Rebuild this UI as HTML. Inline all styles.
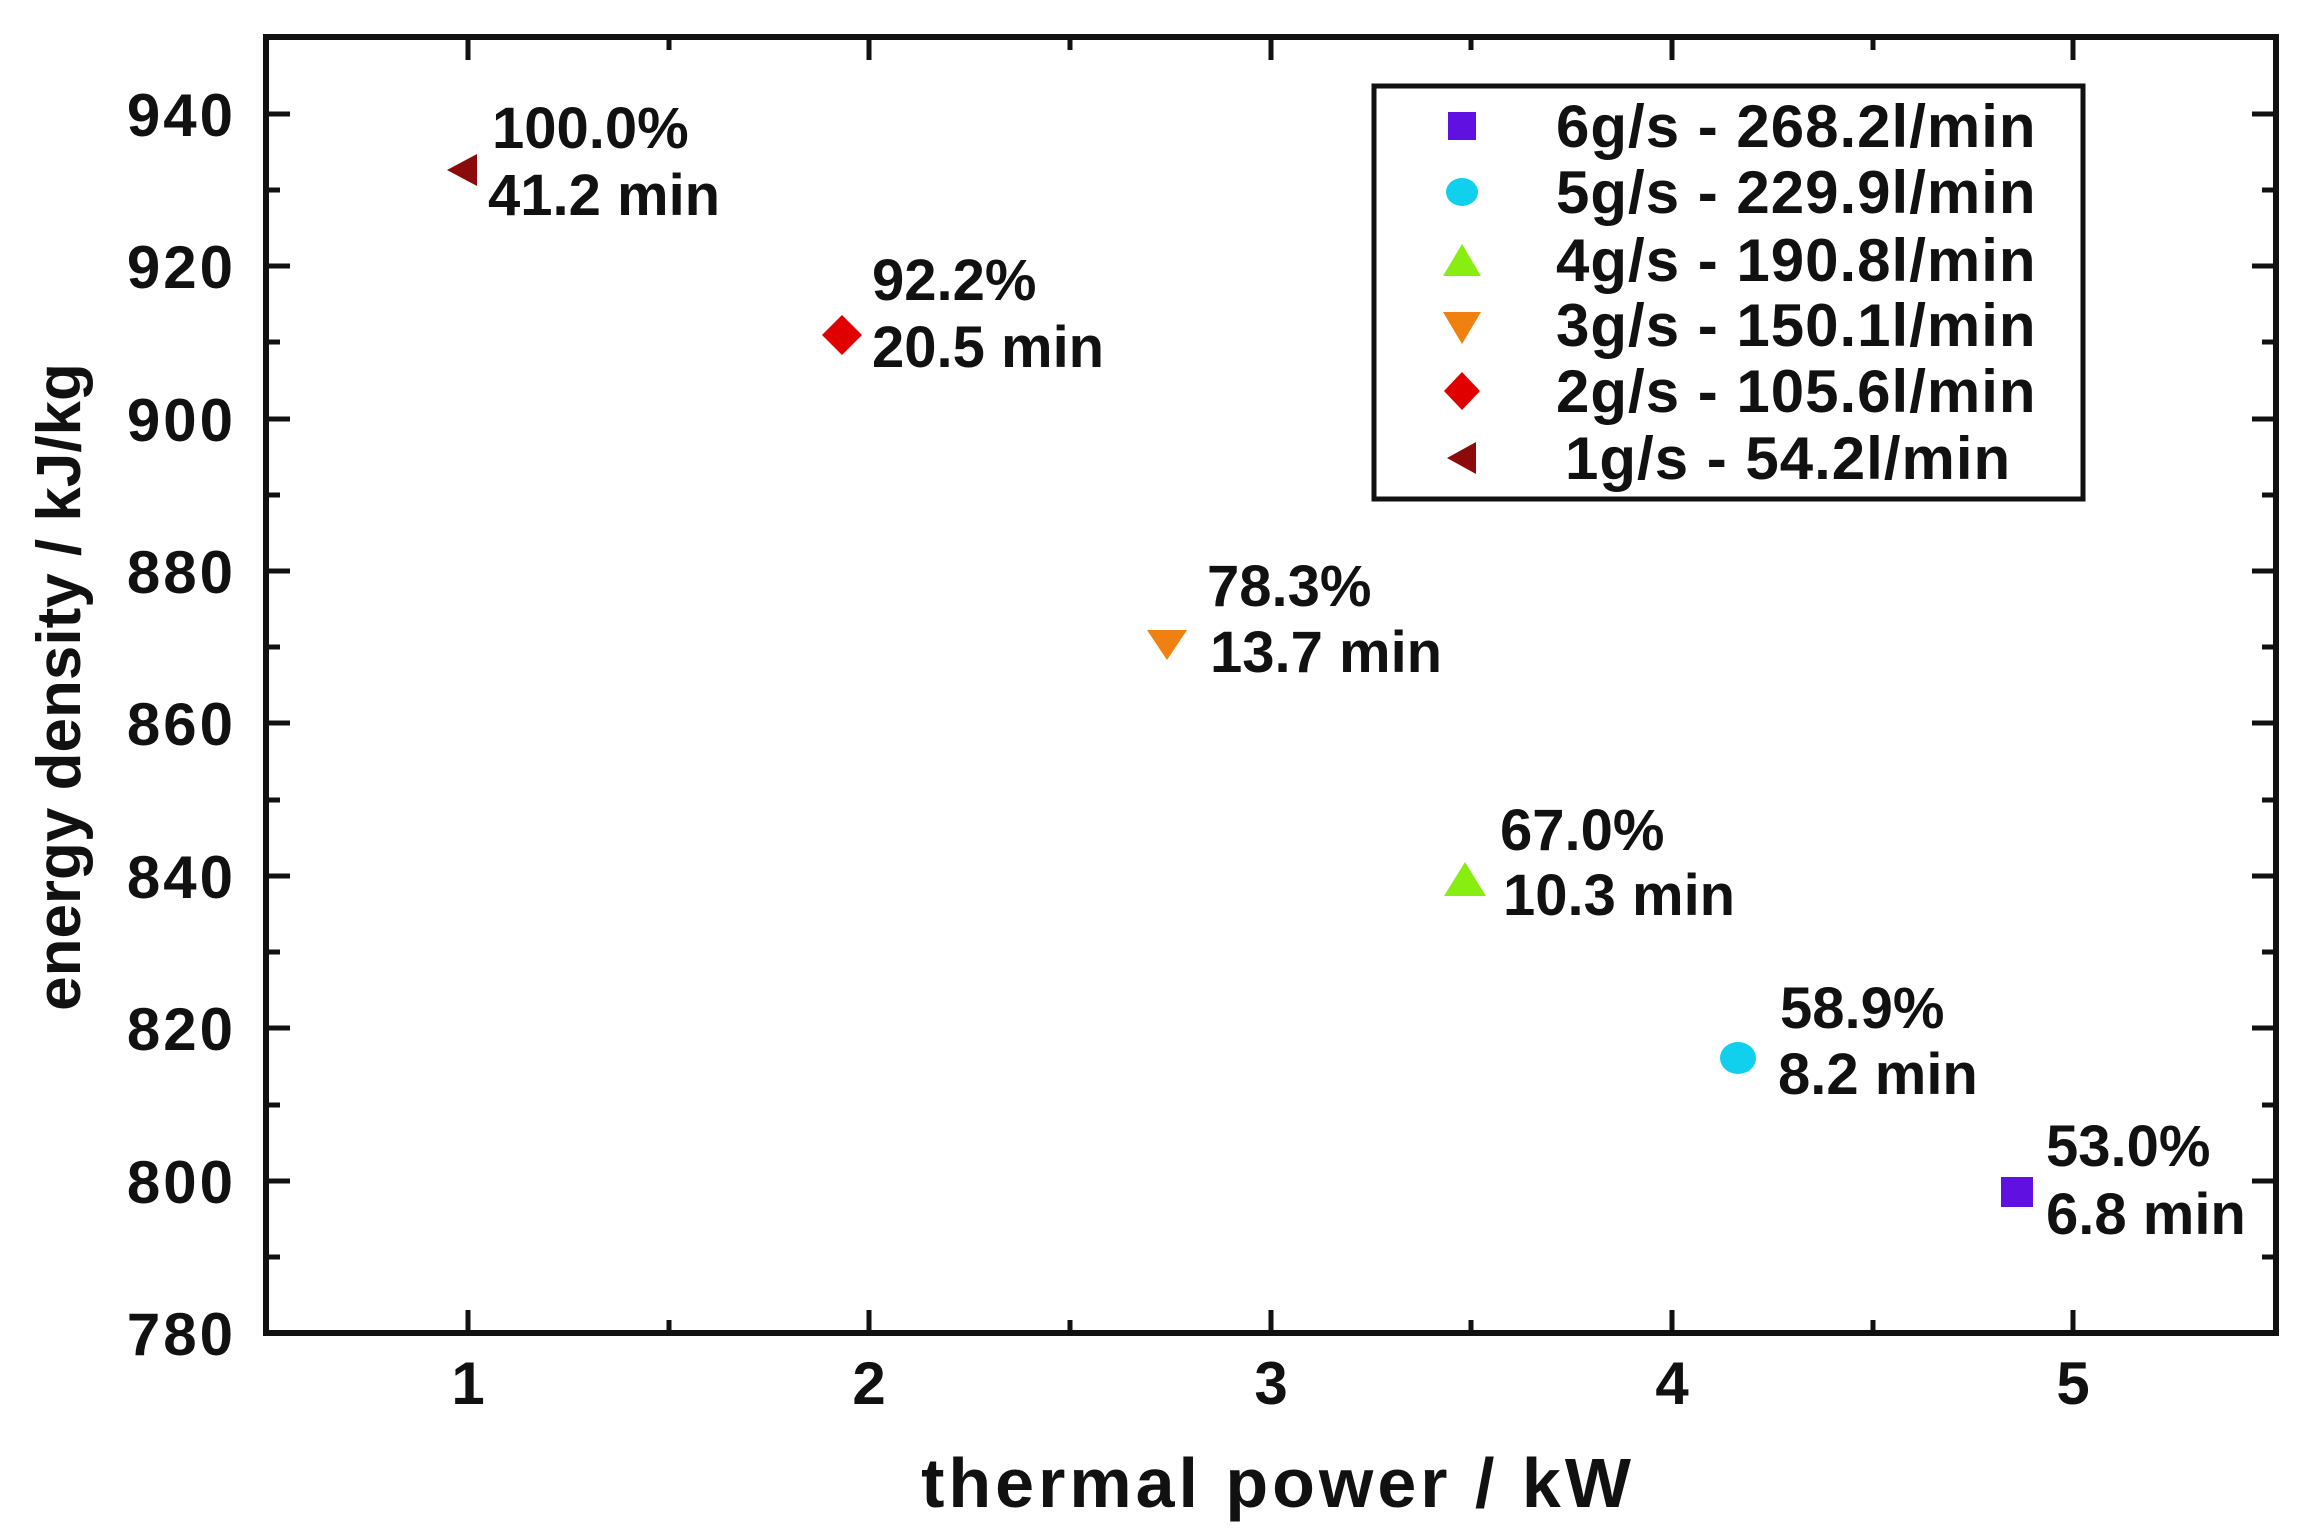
<!DOCTYPE html>
<html><head><meta charset="utf-8"><style>
html,body{margin:0;padding:0;background:#fff}
svg{display:block}
text{font-family:"Liberation Sans",sans-serif;fill:#111;font-weight:bold}
</style></head><body>
<svg width="2304" height="1538" viewBox="0 0 2304 1538" xmlns="http://www.w3.org/2000/svg">
<rect x="266" y="37" width="2010" height="1296" fill="none" stroke="#111" stroke-width="6"/>
<g stroke="#111" stroke-width="5">
<line x1="468" y1="1333" x2="468" y2="1310"/><line x1="869" y1="1333" x2="869" y2="1310"/><line x1="1271" y1="1333" x2="1271" y2="1310"/><line x1="1672" y1="1333" x2="1672" y2="1310"/><line x1="2073" y1="1333" x2="2073" y2="1310"/>
<line x1="468" y1="37" x2="468" y2="60"/><line x1="869" y1="37" x2="869" y2="60"/><line x1="1271" y1="37" x2="1271" y2="60"/><line x1="1672" y1="37" x2="1672" y2="60"/><line x1="2073" y1="37" x2="2073" y2="60"/>
<line x1="669" y1="1333" x2="669" y2="1320"/><line x1="1070" y1="1333" x2="1070" y2="1320"/><line x1="1471" y1="1333" x2="1471" y2="1320"/><line x1="1873" y1="1333" x2="1873" y2="1320"/>
<line x1="669" y1="37" x2="669" y2="50"/><line x1="1070" y1="37" x2="1070" y2="50"/><line x1="1471" y1="37" x2="1471" y2="50"/><line x1="1873" y1="37" x2="1873" y2="50"/>
<line x1="266" y1="1181" x2="290" y2="1181"/><line x1="266" y1="1028" x2="290" y2="1028"/><line x1="266" y1="876" x2="290" y2="876"/><line x1="266" y1="723" x2="290" y2="723"/><line x1="266" y1="571" x2="290" y2="571"/><line x1="266" y1="419" x2="290" y2="419"/><line x1="266" y1="266" x2="290" y2="266"/><line x1="266" y1="114" x2="290" y2="114"/>
<line x1="2276" y1="1181" x2="2252" y2="1181"/><line x1="2276" y1="1028" x2="2252" y2="1028"/><line x1="2276" y1="876" x2="2252" y2="876"/><line x1="2276" y1="723" x2="2252" y2="723"/><line x1="2276" y1="571" x2="2252" y2="571"/><line x1="2276" y1="419" x2="2252" y2="419"/><line x1="2276" y1="266" x2="2252" y2="266"/><line x1="2276" y1="114" x2="2252" y2="114"/>
<line x1="266" y1="1257" x2="280" y2="1257"/><line x1="266" y1="1105" x2="280" y2="1105"/><line x1="266" y1="952" x2="280" y2="952"/><line x1="266" y1="800" x2="280" y2="800"/><line x1="266" y1="647" x2="280" y2="647"/><line x1="266" y1="495" x2="280" y2="495"/><line x1="266" y1="342" x2="280" y2="342"/><line x1="266" y1="190" x2="280" y2="190"/>
<line x1="2276" y1="1257" x2="2262" y2="1257"/><line x1="2276" y1="1105" x2="2262" y2="1105"/><line x1="2276" y1="952" x2="2262" y2="952"/><line x1="2276" y1="800" x2="2262" y2="800"/><line x1="2276" y1="647" x2="2262" y2="647"/><line x1="2276" y1="495" x2="2262" y2="495"/><line x1="2276" y1="342" x2="2262" y2="342"/><line x1="2276" y1="190" x2="2262" y2="190"/>
</g>
<g font-size="60" text-anchor="end" letter-spacing="3">
<text x="236" y="1355">780</text><text x="236" y="1203">800</text><text x="236" y="1050">820</text><text x="236" y="898">840</text><text x="236" y="745">860</text><text x="236" y="593">880</text><text x="236" y="441">900</text><text x="236" y="288">920</text><text x="236" y="136">940</text>
</g>
<g font-size="60" text-anchor="middle">
<text x="468" y="1404">1</text><text x="869" y="1404">2</text><text x="1271" y="1404">3</text><text x="1672" y="1404">4</text><text x="2073" y="1404">5</text>
<text x="1278" y="1507" font-size="70" letter-spacing="4">thermal power / kW</text>
<text transform="translate(80,687) rotate(-90)" font-size="62">energy density / kJ/kg</text>
</g>
<polygon points="447,170 477,154 477,186" fill="#8b0a0a"/>
<polygon points="842,315 862,335 842,355 822,335" fill="#e00000"/>
<polygon points="1147,630 1187,630 1167,660" fill="#f08010"/>
<polygon points="1465,862 1486,896 1444,896" fill="#88ee11"/>
<ellipse cx="1738" cy="1058" rx="18" ry="16" fill="#11d0ee"/>
<rect x="2001" y="1177" width="32" height="30" fill="#6010e0"/>
<g font-size="58">
<text x="492" y="148">100.0%</text><text x="488" y="215">41.2 min</text>
<text x="872" y="300">92.2%</text><text x="872" y="367">20.5 min</text>
<text x="1207" y="606">78.3%</text><text x="1210" y="672">13.7 min</text>
<text x="1500" y="850">67.0%</text><text x="1503" y="915">10.3 min</text>
<text x="1780" y="1028">58.9%</text><text x="1778" y="1094">8.2 min</text>
<text x="2046" y="1166">53.0%</text><text x="2046" y="1234">6.8 min</text>
</g>
<rect x="1374" y="86" width="709" height="413" fill="#fff" stroke="#111" stroke-width="5"/>
<rect x="1448" y="112" width="28" height="28" fill="#6010e0"/>
<ellipse cx="1462" cy="192" rx="16" ry="14" fill="#11d0ee"/>
<polygon points="1462,244 1481,276 1443,276" fill="#88ee11"/>
<polygon points="1443,312 1481,312 1462,344" fill="#f08010"/>
<polygon points="1462,372 1480,391 1462,410 1444,391" fill="#e00000"/>
<polygon points="1447,458 1476,442 1476,474" fill="#8b0a0a"/>
<g font-size="60" letter-spacing="1">
<text x="1556" y="147">6g/s - 268.2l/min</text>
<text x="1556" y="213">5g/s - 229.9l/min</text>
<text x="1556" y="281">4g/s - 190.8l/min</text>
<text x="1556" y="346">3g/s - 150.1l/min</text>
<text x="1556" y="412">2g/s - 105.6l/min</text>
<text x="1565" y="479">1g/s - 54.2l/min</text>
</g>
</svg>
</body></html>
